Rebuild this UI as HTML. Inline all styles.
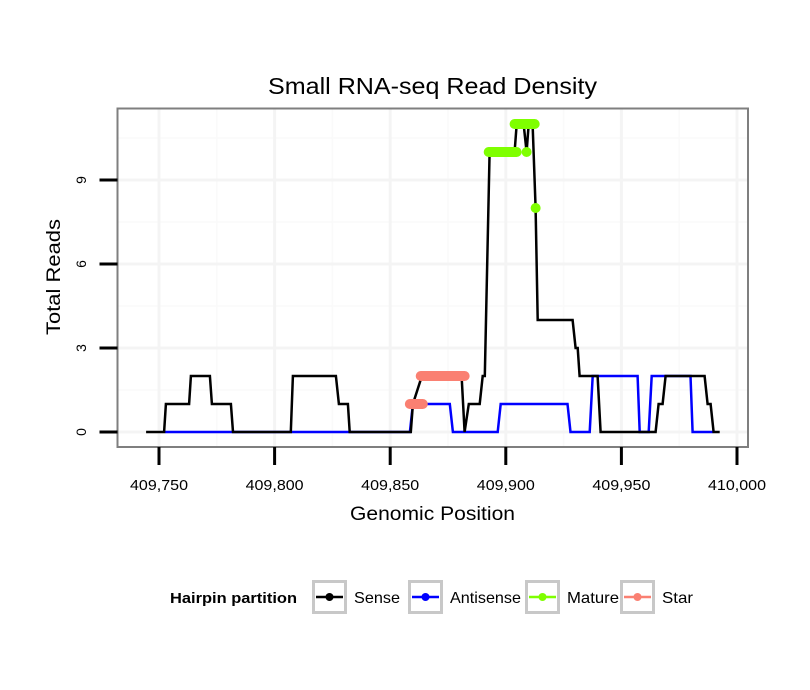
<!DOCTYPE html>
<html><head><meta charset="utf-8"><style>
body{margin:0;background:#fff}
svg{display:block;font-family:"Liberation Sans",sans-serif}
</style></head><body>
<svg id="chart" width="810" height="690" viewBox="0 0 810 690" xmlns="http://www.w3.org/2000/svg">
<rect x="0" y="0" width="810" height="690" fill="#fff"/>
<text x="268" y="94" font-size="23" textLength="329" lengthAdjust="spacingAndGlyphs" fill="#000">Small RNA-seq Read Density</text>
<g id="grid"></g>
<g id="series"></g>
<rect x="117.5" y="108.5" width="630.5" height="338.5" fill="none" stroke="#7f7f7f" stroke-width="2"/>
<g id="axes"></g>
<text x="350" y="520" font-size="19" textLength="165" lengthAdjust="spacingAndGlyphs">Genomic Position</text>
<text transform="translate(60,335) rotate(-90)" font-size="19" textLength="116" lengthAdjust="spacingAndGlyphs">Total Reads</text>
<g id="legend">
<text x="170" y="603" font-size="15" font-weight="bold" textLength="127" lengthAdjust="spacingAndGlyphs">Hairpin partition</text>
</g>
</svg>
<script>
const xTicks = [409750, 409800, 409850, 409900, 409950, 410000];
const xTickLabels = ["409,750", "409,800", "409,850", "409,900", "409,950", "410,000"];
const yTicks = [0, 3, 6, 9];
const yTickLabels = ["0", "3", "6", "9"];
const sensePos = [409744.4,409752.2,409753.0,409763.0,409763.8,409772.0,409772.9,409781.1,409782.0,409807.0,409807.9,409826.5,409827.8,409831.7,409832.5,409858.9,409859.8,409863.7,409880.9,409882.2,409884.0,409888.7,409890.0,409890.9,409893.0,409903.8,409904.7,409907.7,409909.0,409909.9,409911.6,409912.9,409913.8,409928.9,409930.2,409931.1,409931.9,409939.7,409941.0,409964.8,409966.1,409967.8,409969.1,409986.0,409987.3,409988.6,409989.9,409992.5];
const senseVal = [0,0,1,1,2,2,1,1,0,0,2,2,1,1,0,0,1,2,2,0,1,1,2,2,10,10,11,11,10,11,11,8,4,4,3,3,2,2,0,0,1,1,2,2,1,1,0,0];
const antiPos = [409752.6,409858.5,409859.8,409875.8,409877.1,409896.5,409897.8,409926.7,409928.0,409936.3,409937.6,409957.0,409957.9,409961.8,409963.1,409979.9,409980.8,409989.5];
const antiVal = [0,0,1,1,0,0,1,1,0,0,2,2,0,0,2,2,0,0];
const matureStart = [409892.6, 409903.8, 409909.0, 409912.9];
const matureEnd = [409904.7, 409912.5, 409909.0, 409912.9];
const matureVal = [10, 11, 10, 8];
const starStart = [409858.5, 409863.2];
const starEnd = [409864.1, 409882.2];
const starVal = [1, 2];
const legendLabels = ["Sense", "Antisense", "Mature", "Star"];
const legendColors = ["#000000", "#0000ff", "#7fff00", "#fa8072"];

const NS = "http://www.w3.org/2000/svg";
const X0 = 117.5, X1 = 748, Y0 = 108.5, Y1 = 447;
const xs = v => 159 + (v - 409750) * (737 - 159) / 250;
const ys = v => 432 - v * 28;
function mk(tag, attrs, parent) {
  const e = document.createElementNS(NS, tag);
  for (const k in attrs) e.setAttribute(k, attrs[k]);
  parent.appendChild(e);
  return e;
}
const grid = document.getElementById('grid');
const r = mk('rect', {x: X0, y: Y0, width: X1 - X0, height: Y1 - Y0, fill: '#fff'}, grid);


for (let i = 0; i < xTicks.length + 1; i++) {
  const v = xTicks[0] - 25 + i * 50;
  const x = xs(v);
  if (x > X0 && x < X1) { const l = mk('line', {x1: x, x2: x, y1: Y0, y2: Y1, stroke: '#fafafa', 'stroke-width': 1.5}, grid);   }
}
for (let i = 0; i < yTicks.length + 1; i++) {
  const y = ys(yTicks[0] + 1.5 + i * 3);
  if (y > Y0 && y < Y1) { const l = mk('line', {x1: X0, x2: X1, y1: y, y2: y, stroke: '#fafafa', 'stroke-width': 1.5}, grid);   }
}
xTicks.forEach(v => { const x = xs(v); if (x < X1) { const l = mk('line', {x1: x, x2: x, y1: Y0, y2: Y1, stroke: '#f4f4f4', 'stroke-width': 3}, grid);   } });
yTicks.forEach(v => { const y = ys(v); const l = mk('line', {x1: X0, x2: X1, y1: y, y2: y, stroke: '#f4f4f4', 'stroke-width': 3}, grid);   });

const ser = document.getElementById('series');
function line(pos, val, color, name) {
  const d = pos.map((p, i) => (i ? 'L' : 'M') + xs(p).toFixed(1) + ',' + ys(val[i]).toFixed(1)).join(' ');
  const p = mk('path', {d: d, fill: 'none', stroke: color, 'stroke-width': 2.5, 'stroke-linejoin': 'miter'}, ser);
  
  
}
line(antiPos, antiVal, '#0000ff', 'antisense-line');
line(sensePos, senseVal, '#000000', 'sense-line');
function dots(st, en, val, color, name) {
  st.forEach((s, i) => {
    const g = mk('line', {x1: xs(s), x2: xs(en[i]), y1: ys(val[i]), y2: ys(val[i]), stroke: color, 'stroke-width': 10, 'stroke-linecap': 'round'}, ser);
    
    
  });
}
dots(starStart, starEnd, starVal, '#fa8072', 'star-points');
dots(matureStart, matureEnd, matureVal, '#7fff00', 'mature-points');

const ax = document.getElementById('axes');
xTicks.forEach((v, i) => {
  const x = xs(v);
  const t = mk('line', {x1: x, x2: x, y1: Y1, y2: Y1 + 18, stroke: '#000', 'stroke-width': 3}, ax);
  
  
  const tx = mk('text', {x: x - 29, y: 490, 'font-size': 15, textLength: 58, lengthAdjust: 'spacingAndGlyphs'}, ax);
  tx.textContent = xTickLabels[i];
  
  
});
yTicks.forEach((v, i) => {
  const y = ys(v);
  const t = mk('line', {x1: X0 - 18, x2: X0, y1: y, y2: y, stroke: '#000', 'stroke-width': 3}, ax);
  
  
  const tx = mk('text', {transform: `translate(86,${y}) rotate(-90)`, 'font-size': 14, 'text-anchor': 'middle'}, ax);
  tx.textContent = yTickLabels[i];
  
  
});

const lg = document.getElementById('legend');
const keyX = [312, 408, 525, 620];
const labelW = [46, 71, 52, 31];
legendLabels.forEach((lab, i) => {
  const k = mk('rect', {x: keyX[i] + 1.5, y: 581.5, width: 32, height: 31, fill: '#fff', stroke: '#c8c8c8', 'stroke-width': 3}, lg);
  
  
  const l = mk('line', {x1: keyX[i] + 4, x2: keyX[i] + 31, y1: 597, y2: 597, stroke: legendColors[i], 'stroke-width': 2.5}, lg);
  
  
  const c = mk('circle', {cx: keyX[i] + 17.5, cy: 597, r: 4, fill: legendColors[i]}, lg);
  
  
  const t = mk('text', {x: keyX[i] + 42, y: 603, 'font-size': 16, textLength: labelW[i], lengthAdjust: 'spacingAndGlyphs'}, lg);
  t.textContent = lab;
  
  
});
</script>
</body></html>
